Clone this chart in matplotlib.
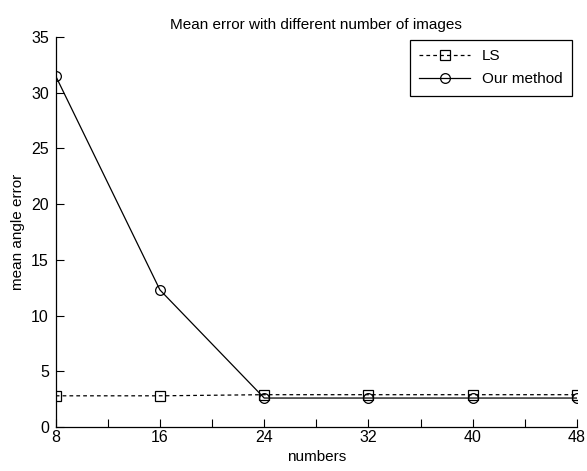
import matplotlib
matplotlib.use("Agg")
import matplotlib.pyplot as plt
from matplotlib.ticker import MultipleLocator

plt.rcParams['font.family'] = ['Liberation Sans', 'DejaVu Sans']

numbers = [8, 16, 24, 32, 40, 48]
ls_err = [2.8, 2.8, 2.9, 2.9, 2.9, 2.9]
our_err = [31.5, 12.3, 2.6, 2.6, 2.6, 2.6]

fig = plt.figure(figsize=(5.87, 4.71), dpi=100)
ax = fig.add_axes([0.0949, 0.0934, 0.888, 0.828])

ax.plot(numbers, ls_err, linestyle='--', color='black', linewidth=0.9,
        marker='s', markersize=7, markerfacecolor='none', markeredgecolor='black',
        markeredgewidth=0.9, label='LS', dashes=(3, 2.5))
ax.plot(numbers, our_err, linestyle='-', color='black', linewidth=0.9,
        marker='o', markersize=7, markerfacecolor='none', markeredgecolor='black',
        markeredgewidth=0.9, label='Our method')

ax.set_xlim(8, 48)
ax.set_ylim(0, 35)
ax.set_xticks(numbers)
ax.xaxis.set_minor_locator(MultipleLocator(4))
ax.set_yticks(range(0, 36, 5))
ax.tick_params(which='both', direction='in', length=6, width=0.8, labelsize=11.5, colors='black')
ax.tick_params(axis='x', pad=2.5)
ax.tick_params(axis='y', pad=5)
for s in ['top', 'right']:
    ax.spines[s].set_visible(False)
for s in ['left', 'bottom']:
    ax.spines[s].set_linewidth(0.9)

ax.set_title('Mean error with different number of images', fontsize=11, pad=6, color='black')
ax.set_xlabel('numbers', fontsize=11, labelpad=3, color='black')
ax.set_ylabel('mean angle error', fontsize=11, labelpad=4, color='black')

leg = ax.legend(loc='upper right', fontsize=11, frameon=True, fancybox=False,
                edgecolor='black', framealpha=1, handlelength=3.3, borderpad=0.6,
                labelspacing=0.6, borderaxespad=0, bbox_to_anchor=(0.99, 0.992))
leg.get_frame().set_linewidth(0.9)

fig.savefig('out.png', dpi=100)
